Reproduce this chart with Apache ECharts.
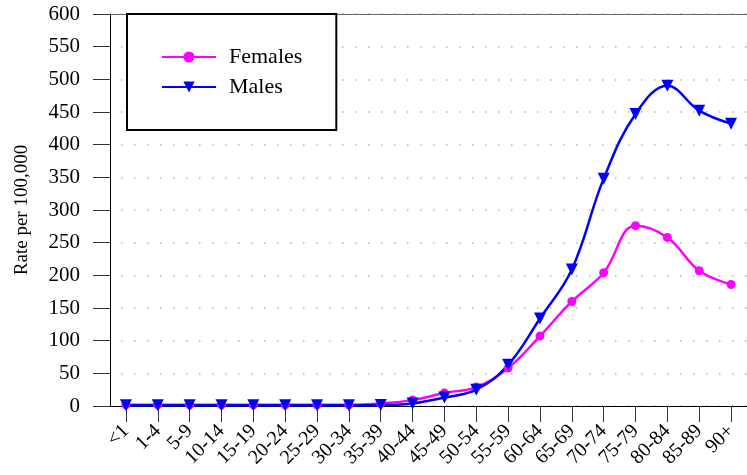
<!DOCTYPE html>
<html>
<head>
<meta charset="utf-8">
<script src="https://cdn.jsdelivr.net/npm/echarts@6/dist/echarts.min.js"></script>
<style>
  html, body { margin: 0; padding: 0; background: #fff; }
  .chart { width: 747px; height: 475px; }
</style>
</head>
<body>
<div class="chart"></div>
<script>
// age groups on the x axis
var ageGroups = ['<1', '1-4', '5-9', '10-14', '15-19', '20-24', '25-29', '30-34', '35-39', '40-44',
  '45-49', '50-54', '55-59', '60-64', '65-69', '70-74', '75-79', '80-84', '85-89', '90+'];

// rate per 100,000
var females = [2, 2, 2, 2, 2, 2, 2, 2, 4, 9, 20, 29, 58, 107, 160, 204, 276, 258, 207, 186];
var males = [1, 1, 1, 1, 1, 1, 1, 1, 1.5, 4, 13, 25, 63, 134, 209, 348, 447, 490, 452, 432];

var serif = 'Liberation Serif';

var chart = echarts.init(document.querySelector('.chart'));

var option = {
  animation: false,
  textStyle: { fontFamily: serif },
  grid: {
    left: 110,
    top: 14,
    width: 648,
    height: 392
  },
  legend: {
    orient: 'vertical',
    left: 127,
    top: 14,
    padding: [32, 34, 32, 34],
    itemGap: 8,
    itemWidth: 54,
    itemHeight: 14,
    backgroundColor: '#fff',
    borderColor: '#000',
    borderWidth: 2,
    borderRadius: 0,
    textStyle: { fontFamily: serif, fontSize: 22, color: '#000', padding: [0, 0, 0, 8] },
    data: ['Females', 'Males']
  },
  xAxis: [{
    type: 'category',
    data: ageGroups,
    boundaryGap: true,
    axisLine: { lineStyle: { color: '#000', width: 1 } },
    axisTick: { show: true, alignWithLabel: true, length: 16, lineStyle: { color: '#333', width: 1 } },
    axisLabel: {
      interval: 0,
      rotate: 45,
      margin: 22,
      fontFamily: serif,
      fontSize: 20,
      color: '#000'
    },
    splitLine: { show: false }
  }, {
    // plain line along the top at 600
    type: 'category',
    data: ageGroups,
    position: 'top',
    axisLine: { lineStyle: { color: '#666', width: 1 } },
    axisTick: { show: false },
    axisLabel: { show: false }
  }],
  yAxis: {
    type: 'value',
    min: 0,
    max: 600,
    interval: 50,
    name: 'Rate per 100,000',
    nameLocation: 'middle',
    nameGap: 78,
    nameTextStyle: { fontFamily: serif, fontSize: 19, color: '#000' },
    axisLine: { show: true, lineStyle: { color: '#000', width: 1 } },
    axisTick: { show: true, length: 17, lineStyle: { color: '#333' } },
    axisLabel: { margin: 30, fontFamily: serif, fontSize: 21, color: '#000' },
    splitLine: {
      lineStyle: { color: '#b4b4b4', width: 1.5, type: [1.5, 11.5], dashOffset: -11 }
    }
  },
  series: [
    {
      name: 'Females',
      type: 'line',
      data: females,
      smooth: 0.4,
      symbol: 'circle',
      symbolSize: 9,
      color: '#ff00ff',
      lineStyle: { width: 2.5, color: '#ff00ff' },
      itemStyle: { color: '#ff00ff' }
    },
    {
      name: 'Males',
      type: 'line',
      data: males,
      smooth: 0.4,
      symbol: 'triangle',
      symbolRotate: 180,
      symbolSize: 12,
      color: '#0000ff',
      lineStyle: { width: 2.5, color: '#0000ff' },
      itemStyle: { color: '#0000ff' }
    }
  ]
};

chart.setOption(option);
</script>
</body>
</html>
